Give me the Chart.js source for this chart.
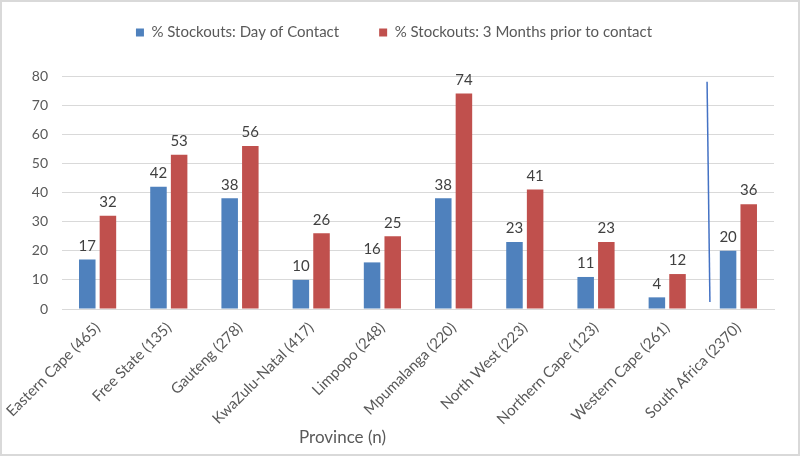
<!DOCTYPE html>
<html>
<head>
<meta charset="utf-8">
<script src="https://cdn.jsdelivr.net/npm/chart.js@4/dist/chart.umd.min.js"></script>
<style>
  html, body { margin: 0; padding: 0; background: #fff; }
  #wrap { position: relative; width: 800px; height: 456px; box-sizing: border-box; border: 2px solid #d9d9d9; }
  canvas { display: block; }
</style>
</head>
<body>
<div id="wrap"><canvas id="c" width="796" height="452"></canvas></div>
<script>
const categories = ["Eastern Cape (465)", "Free State (135)", "Gauteng (278)", "KwaZulu-Natal (417)", "Limpopo (248)", "Mpumalanga (220)", "North West (223)", "Northern Cape (123)", "Western Cape (261)", "South Africa (2370)"];
const dayOfContact = [17, 42, 38, 10, 16, 38, 23, 11, 4, 20];
const threeMonthsPrior = [32, 53, 56, 26, 25, 74, 41, 23, 12, 36];
const seriesNames = ["% Stockouts: Day of Contact", "% Stockouts: 3 Months prior to contact"];
const yTicks = [0, 10, 20, 30, 40, 50, 60, 70, 80];
const axisTitle = "Province (n)";
// separator line drawn between Western Cape and South Africa (category position, value range)
const separator = { xTop: 8.56, xBottom: 8.6, yTop: 78, yBottom: 2.4 };

const FONT = "Lato, 'Open Sans', sans-serif";
const TEXT = "#595959";

const legendSpace = {
  id: 'legendSpace',
  beforeLayout(chart) {
    const lg = chart.legend;
    if (lg && !lg._patched) {
      const f = lg.fit.bind(lg);
      lg.fit = function () { f(); this.height += 9; };
      const d = lg.draw.bind(lg);
      lg.draw = function () {
        const ctx = this.ctx;
        ctx.save(); ctx.translate(6, -17); d(); ctx.restore();
      };
      lg._patched = true;
    }
  }
};

const labelPlugin = {
  id: 'valueLabels',
  afterDatasetsDraw(chart) {
    const ctx = chart.ctx;
    ctx.save();
    ctx.font = "15px " + FONT;
    ctx.fillStyle = "#404040";
    ctx.textAlign = "center";
    ctx.textBaseline = "bottom";
    chart.data.datasets.forEach((ds, i) => {
      const meta = chart.getDatasetMeta(i);
      meta.data.forEach((bar, j) => {
        ctx.fillText(String(ds.data[j]), bar.x, bar.y - 6);
      });
    });
    // separator line
    const xs = chart.scales.x, ys = chart.scales.y;
    const px = v => {
      const i = Math.floor(v), f = v - i;
      return xs.getPixelForTick(i) + f * (xs.getPixelForTick(i + 1) - xs.getPixelForTick(i));
    };
    ctx.strokeStyle = "#4472C4";
    ctx.lineWidth = 1.5;
    ctx.beginPath();
    ctx.moveTo(px(separator.xTop), ys.getPixelForValue(separator.yTop));
    ctx.lineTo(px(separator.xBottom), ys.getPixelForValue(separator.yBottom));
    ctx.stroke();
    // axis title
    ctx.font = "17px " + FONT;
    ctx.fillStyle = TEXT;
    ctx.textBaseline = "middle";
    ctx.fillText(axisTitle, px(3.44), chart.height - 16);
    ctx.restore();
  }
};

new Chart(document.getElementById('c'), {
  type: 'bar',
  data: {
    labels: categories,
    datasets: [
      { label: seriesNames[0], data: dayOfContact, backgroundColor: "#4F81BD" },
      { label: seriesNames[1], data: threeMonthsPrior, backgroundColor: "#C0504D" }
    ]
  },
  options: {
    responsive: false,
    animation: false,
    datasets: { bar: { categoryPercentage: 0.58, barPercentage: 0.8 } },
    layout: { padding: { top: 0, right: 24, left: 0, bottom: 0 } },
    plugins: {
      tooltip: { enabled: false },
      legend: {
        position: 'top',
        labels: {
          boxWidth: 8, boxHeight: 8, padding: 40,
          color: TEXT, font: { family: FONT, size: 15 }
        }
      }
    },
    scales: {
      x: {
        grid: { display: false },
        border: { color: "#d9d9d9" },
        ticks: { color: TEXT, font: { family: FONT, size: 15 }, minRotation: 45, maxRotation: 45, padding: 2 },
        afterFit(s) { s.height = 145; }
      },
      y: {
        min: 0, max: 80,
        afterBuildTicks(s) { s.ticks = yTicks.map(v => ({ value: v })); },
        grid: { color: "#d9d9d9", drawTicks: false },
        border: { display: false },
        ticks: { color: TEXT, font: { family: FONT, size: 14 }, padding: 14 },
        afterFit(s) { s.width = 60; }
      }
    }
  },
  plugins: [legendSpace, labelPlugin]
});
</script>
</body>
</html>
